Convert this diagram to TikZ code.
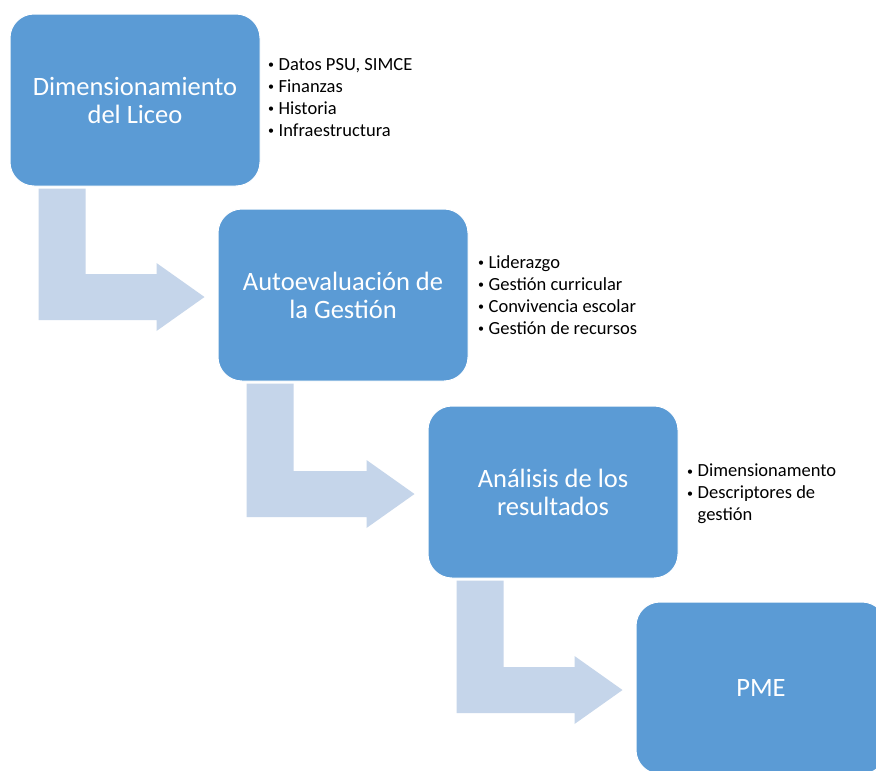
\documentclass[tikz,border=0pt]{standalone}
\usepackage{fontspec}
\setmainfont{Carlito}
\usetikzlibrary{calc}
\definecolor{boxblue}{HTML}{5B9BD5}
\definecolor{arrowblue}{HTML}{C5D5EA}
\newcommand\blt{\makebox[10.5pt][l]{\raisebox{1.5pt}{\fontsize{12}{12}\selectfont\textbullet}}}
\newcommand\bentarrow[2]{%
  \fill[flow] let \p1=(#1.south west), \p2=(#2.west) in
    (\x1+29pt,\y1-2pt) -- (\x1+76pt,\y1-2pt) -- (\x1+76pt,\y2-2pt+23pt)
    -- (\x2-61pt,\y2-2pt+23pt) -- (\x2-61pt,\y2-2pt+34pt) -- (\x2-13pt,\y2-2pt)
    -- (\x2-61pt,\y2-2pt-34pt) -- (\x2-61pt,\y2-2pt-23pt) -- (\x1+29pt,\y2-2pt-23pt) -- cycle;}
\begin{document}
\begin{tikzpicture}[x=1pt,y=-1pt,
  stage/.style={fill=boxblue, draw=white, line width=1pt, rounded corners=24pt,
    minimum width=250pt, minimum height=172pt, text=white,
    font=\fontsize{26.5}{28}\selectfont, align=center, inner sep=0pt},
  bullets/.style={font=\fontsize{18.5}{22}\selectfont, align=left, anchor=north west,
    inner sep=0pt, text=black},
  flow/.style={fill=arrowblue}]
\clip (0,0) rectangle (876,771);
\fill[white] (0,0) rectangle (876,771);
\node[stage] (b1) at (135,100) {Dimensionamiento\\del Liceo};
\node[stage] (b2) at (343,295) {Autoevaluación de\\la Gestión};
\node[stage] (b3) at (553,492) {Análisis de los\\resultados};
\node[stage] (b4) at (761,688) {PME};
\bentarrow{b1}{b2}
\bentarrow{b2}{b3}
\bentarrow{b3}{b4}
\node[bullets] (l1) at (268,58) {\blt Datos PSU, SIMCE\\\blt Finanzas\\\blt Historia\\\blt Infraestructura};
\node[bullets] (l2) at (478,255) {\blt Liderazgo\\\blt Gestión curricular\\\blt Convivencia escolar\\\blt Gestión de recursos};
\node[bullets] (l3) at (687,464) {\blt Dimensionamento\\\blt Descriptores de\\\hspace*{10.5pt}gestión};
\end{tikzpicture}
\end{document}
